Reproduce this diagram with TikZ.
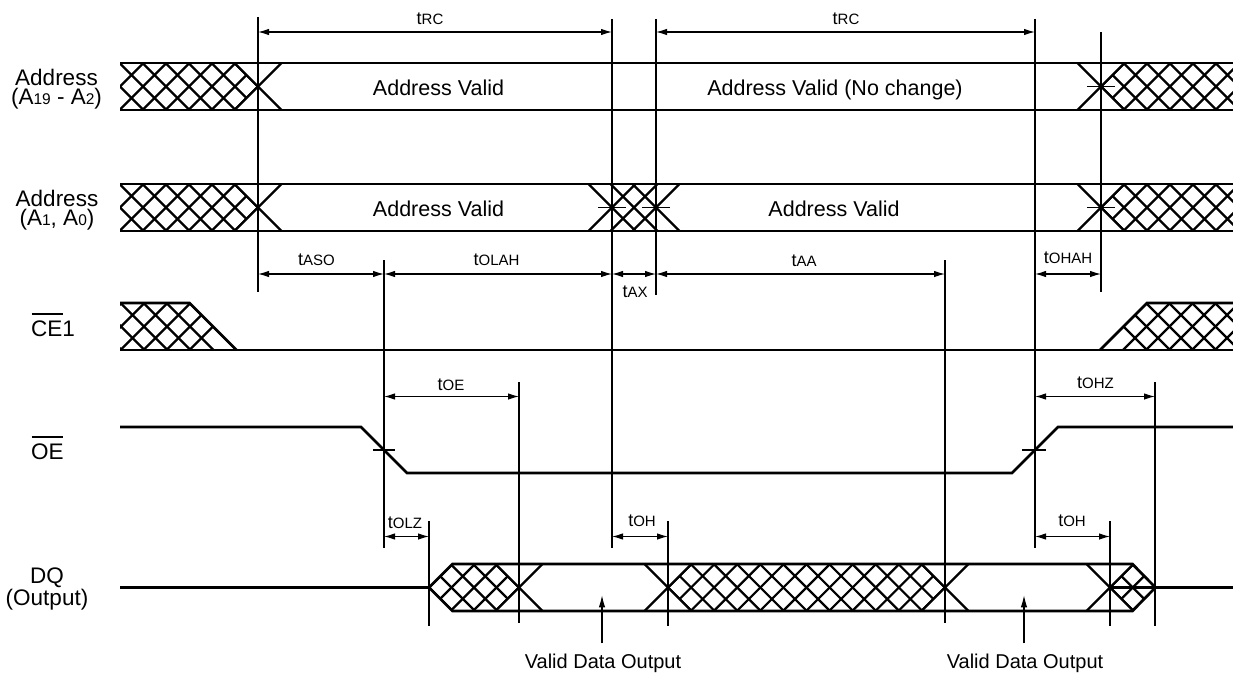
\documentclass[tikz,border=0pt]{standalone}
\usepackage{fontspec}
\setmainfont{Liberation Sans}
\usetikzlibrary{arrows.meta,calc}
\newcommand{\fsz}[1]{\fontsize{#1}{#1}\selectfont}
\newcommand{\tlab}[1]{{\fsz{18}t}{\fsz{15}#1}}
\newcommand{\sml}[1]{{\fsz{15.5}#1}}
\newcommand{\hatchset}[4]{% phase, mid, spacing, list
  \foreach \k in {#4}{
    \draw[hat] ({#1+(\k)*#3-30},{#2-30}) -- ({#1+(\k)*#3+30},{#2+30});
    \draw[hat] ({#1+(\k)*#3-30},{#2+30}) -- ({#1+(\k)*#3+30},{#2-30});
  }}
\newcommand{\crossx}[2]{%
  \draw[hat] ({#1-23.5},{#2-23.5}) -- ({#1+23.5},{#2+23.5});
  \draw[hat] ({#1-23.5},{#2+23.5}) -- ({#1+23.5},{#2-23.5});}
\begin{document}
\begin{tikzpicture}[x=1pt,y=-1pt,
  sig/.style={line width=2.6pt},
  hat/.style={line width=2.2pt},
  vline/.style={line width=1.2pt},
  tick/.style={line width=1.2pt},
  dim/.style={line width=1.1pt,{Latex[length=11pt,width=6.5pt]}-{Latex[length=11pt,width=6.5pt]}},
  arr/.style={line width=1.1pt,-{Latex[length=12pt,width=6.5pt]}},
  lab/.style={inner sep=0pt,anchor=base},
  big/.style={font=\fsz{22.5}},
  two/.style={inner sep=0pt,align=center,font=\fontsize{22.5}{19.5}\selectfont},
  mid/.style={font=\fsz{21.5}},
  sm/.style={font=\fsz{20}}]
\useasboundingbox (0,0) rectangle (1233,677);

% ---------- Row 1: Address (A19 - A2) ----------
\begin{scope}
  \clip (120,63) -- (234.5,63) -- (258,86.5) -- (234.5,110) -- (120,110) -- cycle;
  \hatchset{258}{86.5}{23}{-6,...,0}
\end{scope}
\begin{scope}
  \clip (1101,86.5) -- (1124.5,63) -- (1233,63) -- (1233,110) -- (1124.5,110) -- cycle;
  \hatchset{1101}{86.5}{23}{0,...,6}
\end{scope}
\crossx{258}{86.5}
\crossx{1101}{86.5}
\draw[sig] (120,63) -- (1233,63);
\draw[sig] (120,110) -- (1233,110);
\draw[tick] (1087,86.5) -- (1115,86.5);

% ---------- Row 2: Address (A1, A0) ----------
\begin{scope}
  \clip (120,184) -- (234.5,184) -- (258,207.5) -- (234.5,231) -- (120,231) -- cycle;
  \hatchset{258}{207.5}{23}{-6,...,0}
\end{scope}
\begin{scope}
  \clip (1101,207.5) -- (1124.5,184) -- (1233,184) -- (1233,231) -- (1124.5,231) -- cycle;
  \hatchset{1101}{207.5}{23}{0,...,6}
\end{scope}
\crossx{258}{207.5}
\crossx{612}{207.5}
\crossx{634}{207.5}
\crossx{656}{207.5}
\crossx{1101}{207.5}
\draw[sig] (120,184) -- (1233,184);
\draw[sig] (120,231) -- (1233,231);
\draw[tick] (598,207.5) -- (626,207.5);
\draw[tick] (642,207.5) -- (670,207.5);
\draw[tick] (1087,207.5) -- (1115,207.5);

% ---------- Row 3: CE1 ----------
\begin{scope}
  \clip (120,303) -- (189.5,303) -- (236.5,350) -- (120,350) -- cycle;
  \hatchset{213}{326.5}{23}{-5,...,0}
\end{scope}
\begin{scope}
  \clip (1100,350) -- (1147,303) -- (1233,303) -- (1233,350) -- cycle;
  \hatchset{1123.5}{326.5}{23}{0,...,5}
\end{scope}
\draw[sig] (120,303) -- (189.5,303) -- (236.5,350);
\draw[sig] (120,350) -- (1233,350);
\draw[sig] (1100,350) -- (1147,303) -- (1233,303);

% ---------- Row 4: OE ----------
\draw[sig] (120,427) -- (361,427) -- (407,473) -- (1012,473) -- (1058,427) -- (1233,427);
\draw[tick] (373,450) -- (395,450);
\draw[tick] (1022,450) -- (1046,450);

% ---------- Row 5: DQ ----------
\begin{scope}
  \clip (429,587.5) -- (452.5,564) -- (495.5,564) -- (519,587.5) -- (495.5,611) -- (452.5,611) -- cycle;
  \hatchset{429}{587.5}{22.5}{0,...,4}
\end{scope}
\begin{scope}
  \clip (668,587.5) -- (691.5,564) -- (921.5,564) -- (945,587.5) -- (921.5,611) -- (691.5,611) -- cycle;
  \hatchset{668}{587.5}{23.083}{0,...,12}
\end{scope}
\begin{scope}
  \clip (1110,587.5) -- (1132.5,564) -- (1155.5,587.5) -- (1132.5,611) -- cycle;
  \hatchset{1110}{587.5}{22.75}{0,...,2}
\end{scope}
\crossx{519}{587.5}
\crossx{668}{587.5}
\crossx{945}{587.5}
\crossx{1110}{587.5}
\draw[sig] (120,587.5) -- (429,587.5) -- (452.5,564) -- (1132.5,564) -- (1155.5,587.5) -- (1132.5,611) -- (452.5,611) -- (429,587.5);
\draw[sig] (1110,587.5) -- (1233,587.5);

% ---------- Vertical reference lines ----------
\draw[vline] (258,17) -- (258,292);
\draw[vline] (612,19) -- (612,548);
\draw[vline] (656,19) -- (656,295);
\draw[vline] (1035,19) -- (1035,548);
\draw[vline] (1101,32) -- (1101,292);
\draw[vline] (384,260) -- (384,548);
\draw[vline] (519,382) -- (519,623);
\draw[vline] (429,521) -- (429,626);
\draw[vline] (668,521) -- (668,626);
\draw[vline] (945,260) -- (945,623);
\draw[vline] (1110,521) -- (1110,626);
\draw[vline] (1155,382) -- (1155,626);

% ---------- Dimension arrows ----------
\draw[dim] (258,32) -- (612,32);
\draw[dim] (656,32) -- (1035,32);
\draw[dim] (258,274) -- (384,274);
\draw[dim] (384,274) -- (612,274);
\draw[dim] (612,274) -- (656,274);
\draw[dim] (656,274) -- (945,274);
\draw[dim] (1035,274) -- (1101,274);
\draw[dim] (384,396.5) -- (519,396.5);
\draw[dim] (1035,396.5) -- (1155,396.5);
\draw[dim] (384,536.5) -- (429,536.5);
\draw[dim] (612,536.5) -- (668,536.5);
\draw[dim] (1035,536.5) -- (1110,536.5);

% ---------- Timing labels ----------
\node[lab] (trc1) at (430,25) {\tlab{RC}};
\node[lab] (trc2) at (846,25) {\tlab{RC}};
\node[lab] (taso) at (316.5,265.5) {\tlab{ASO}};
\node[lab] (tolah) at (496.5,265.5) {\tlab{OLAH}};
\node[lab] (taa) at (804,266.5) {\tlab{AA}};
\node[lab] (tax) at (635,297.5) {\tlab{AX}};
\node[lab] (tohah) at (1068,263.5) {\tlab{OHAH}};
\node[lab] (toe) at (451,390) {\tlab{OE}};
\node[lab] (tohz) at (1095.5,388.5) {\tlab{OHZ}};
\node[lab] (tolz) at (405,528) {\tlab{OLZ}};
\node[lab] (toh1) at (642,526) {\tlab{OH}};
\node[lab] (toh2) at (1072,526) {\tlab{OH}};

% ---------- Row texts ----------
\node[lab,mid] (av1) at (438.5,95) {Address Valid};
\node[lab,mid] (av2) at (835,95) {Address Valid (No change)};
\node[lab,mid] (av3) at (438.5,216) {Address Valid};
\node[lab,mid] (av4) at (834,216) {Address Valid};

% ---------- Signal names ----------
\node[two,anchor=base] (ad1) at (56.5,104.5) {Address\\(A\sml{19} - A\sml{2})};
\node[two,anchor=base] (ad2) at (57,225.5) {Address\\(A\sml{1}, A\sml{0})};
\node[lab,big,anchor=base west] (ce) at (31,336) {CE1};
\draw[line width=1.2pt] ($(ce.base west)+(0.5,-22)$) -- ($(ce.base west)+(31.5,-22)$);
\node[lab,big,anchor=base west] (oe) at (31,459) {OE};
\draw[line width=1.2pt] ($(oe.base west)+(0.5,-22)$) -- ($(oe.base east)+(-0.5,-22)$);
\node[two,anchor=base] (dq) at (47,605) {DQ\\(Output)};

% ---------- Valid Data Output ----------
\node[lab,sm] (vd1) at (603,668) {Valid Data Output};
\node[lab,sm] (vd2) at (1025,668) {Valid Data Output};
\draw[arr] ($(vd1.north)+(-1,-10)$) -- ($(vd1.north)+(-1,-58)$);
\draw[arr] ($(vd2.north)+(-1,-10)$) -- ($(vd2.north)+(-1,-58)$);
\end{tikzpicture}
\end{document}
